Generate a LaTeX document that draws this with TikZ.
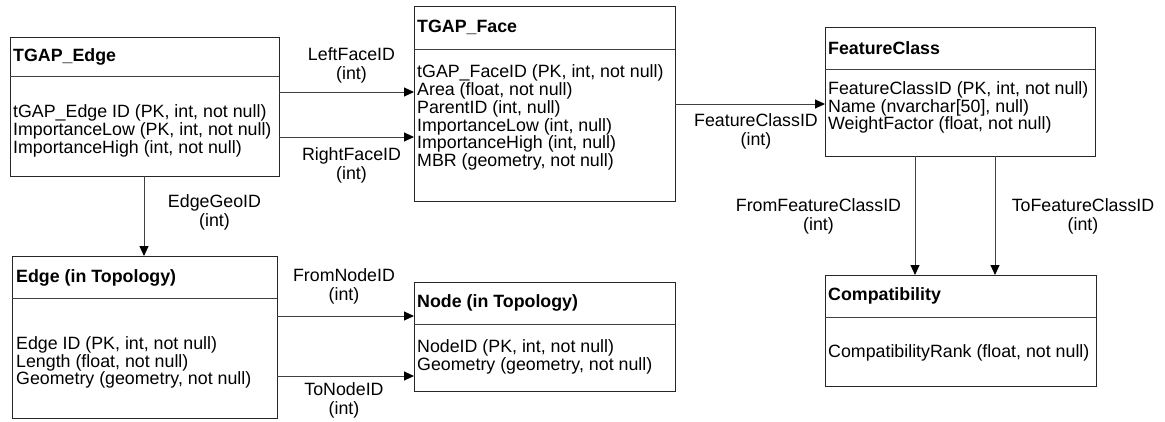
\documentclass[tikz,border=0pt]{standalone}
\usepackage{fontspec}
\setmainfont{Liberation Sans}
\usetikzlibrary{arrows.meta}

\tikzset{
  tbl/.style={draw=black!85, line width=1pt, inner sep=0pt, outer sep=0pt, fill=white},
  sep/.style={draw=black!75, line width=1pt},
  ttl/.style={anchor=west, inner sep=0pt, font=\fontsize{17.8}{17.8}\selectfont\bfseries},
  body/.style={anchor=west, inner sep=0pt, align=left, font=\fontsize{17.8}{17.8}\selectfont},
  lbl/.style={inner sep=0pt, align=center, font=\fontsize{17.8}{19}\selectfont},
  fk/.style={draw=black!75, line width=1pt, -{Triangle[length=10pt,width=9pt,color=black]}}
}

\begin{document}
\begin{tikzpicture}[x=1pt, y=-1pt]
\useasboundingbox (0,0) rectangle (1165,421);

% tables
\node[tbl, minimum width=269pt, minimum height=139pt] (tedge) at (144.5,106.5) {};
\node[tbl, minimum width=261pt, minimum height=195pt] (tface) at (544.5,103.5) {};
\node[tbl, minimum width=270pt, minimum height=129pt] (fclass) at (960,91.5) {};
\node[tbl, minimum width=271pt, minimum height=111pt] (compat) at (960.5,330.5) {};
\node[tbl, minimum width=265pt, minimum height=162pt] (etopo) at (144.5,337) {};
\node[tbl, minimum width=261pt, minimum height=109pt] (ntopo) at (544.5,336.5) {};

% header separators
\draw[sep] (tedge.west |- 0,76) -- (tedge.east |- 0,76);
\draw[sep] (tface.west |- 0,49) -- (tface.east |- 0,49);
\draw[sep] (fclass.west |- 0,69) -- (fclass.east |- 0,69);
\draw[sep] (compat.west |- 0,317) -- (compat.east |- 0,317);
\draw[sep] (etopo.west |- 0,298) -- (etopo.east |- 0,298);
\draw[sep] (ntopo.west |- 0,324) -- (ntopo.east |- 0,324);

% titles
\node[ttl] (tedgeT) at (13,57) {TGAP\_Edge};
\node[ttl] (tfaceT) at (417,27.5) {TGAP\_Face};
\node[ttl] (fclassT) at (828,48) {FeatureClass};
\node[ttl] (compatT) at (828,296) {Compatibility};
\node[ttl] (etopoT) at (16,277.5) {Edge (in Topology)};
\node[ttl] (ntopoT) at (417,303) {Node (in Topology)};

% attributes
\node[body] (tedgeB) at (13,131) {tGAP\_Edge ID (PK, int, not null)\\ImportanceLow (PK, int, not null)\\ImportanceHigh (int, not null)};
\node[body] (tfaceB) at (417,117.5) {tGAP\_FaceID (PK, int, not null)\\Area (float, not null)\\ParentID (int, null)\\ImportanceLow (int, null)\\ImportanceHigh (int, null)\\MBR (geometry, not null)};
\node[body] (fclassB) at (828,107.5) {FeatureClassID (PK, int, not null)\\Name (nvarchar[50], null)\\WeightFactor (float, not null)};
\node[body] (compatB) at (828,353) {CompatibilityRank (float, not null)};
\node[body] (etopoB) at (16,362.5) {Edge ID (PK, int, not null)\\Length (float, not null)\\Geometry (geometry, not null)};
\node[body] (ntopoB) at (417,357) {NodeID (PK, int, not null)\\Geometry (geometry, not null)};

% foreign keys
\draw[fk] (tedge.east |- 0,92) -- (tface.west |- 0,92);
\draw[fk] (tedge.east |- 0,137) -- (tface.west |- 0,137);
\draw[fk] (tface.east |- 0,104) -- (fclass.west |- 0,104);
\draw[fk] (tedge.south -| 144,0) -- (etopo.north -| 144,0);
\draw[fk] (etopo.east |- 0,316) -- (ntopo.west |- 0,316);
\draw[fk] (etopo.east |- 0,376) -- (ntopo.west |- 0,376);
\draw[fk] (fclass.south -| 915,0) -- (compat.north -| 915,0);
\draw[fk] (fclass.south -| 995,0) -- (compat.north -| 995,0);

% key labels
\node[lbl] (lLeft) at (351.5,65.5) {LeftFaceID\\(int)};
\node[lbl] (lRight) at (351.5,165) {RightFaceID\\(int)};
\node[lbl] (lFC) at (756,131) {FeatureClassID\\(int)};
\node[lbl] (lGeo) at (214.5,212) {EdgeGeoID\\(int)};
\node[lbl] (lFrom) at (344,286) {FromNodeID\\(int)};
\node[lbl] (lTo) at (344,400) {ToNodeID\\(int)};
\node[lbl] (lFFC) at (818.5,216) {FromFeatureClassID\\(int)};
\node[lbl] (lTFC) at (1083,216) {ToFeatureClassID\\(int)};
\end{tikzpicture}
\end{document}
